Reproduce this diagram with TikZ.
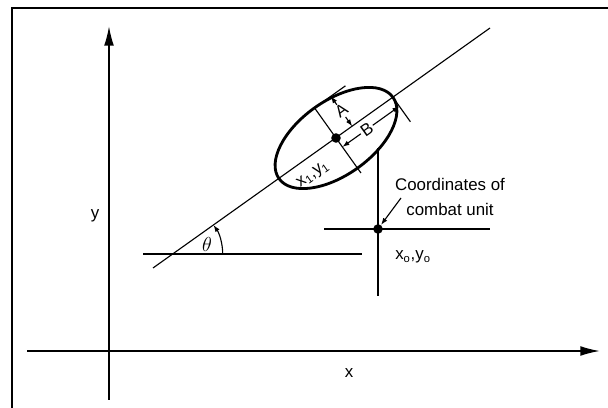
\documentclass[tikz,border=0pt]{standalone}
\usepackage{fontspec}
\setmainfont{Liberation Sans}
\usetikzlibrary{arrows.meta}
\begin{document}
\begin{tikzpicture}[x=0.025cm,y=0.025cm,
    geoAx/.style={-{Latex[length=14pt,width=7pt]},line width=1.2pt},
    geoLn/.style={line width=0.8pt},
    geoEll/.style={line width=2pt},
    geoDim/.style={-{Latex[length=5pt,width=3.5pt]},line width=0.8pt},
    geoLbl/.style={font=\fontsize{12}{17.5}\selectfont,inner sep=1pt},
    geoDot/.style={fill,circle,inner sep=2.4pt},
]
\useasboundingbox (0,0) rectangle (608,408);
% Frame
\draw[line width=1.4pt] (12,0) -- (12,400) -- (608,400);
% Axes
\coordinate (Xs) at (27,57);
\coordinate (Xe) at (600,57);
\coordinate (Ys) at (109,8);
\coordinate (Ye) at (109,382);
\draw[geoAx] (Xs) -- (Xe);
\draw[geoAx] (Ys) -- (Ye);
\node[geoLbl] (xLab) at (349,35) {x};
\node[geoLbl] (yLab) at (95,192) {y};
% Line of the major axis
\coordinate (L1) at (153,140);
\coordinate (L2) at (490,380);
\draw[geoLn] (L1) -- (L2);
% Angle theta
\coordinate (H1) at (143,154);
\coordinate (H2) at (362,154);
\draw[geoLn] (H1) -- (H2);
\coordinate (T) at (172.7,154);
\draw[geoDim] ([shift={(0:50)}]T) arc (0:35.5:50);
\node[geoLbl,font=\fontsize{15}{17}\selectfont] (th) at (207,164) {$\theta$};
% Combat unit
\coordinate (V1) at (378,260);
\coordinate (V2) at (378,112);
\coordinate (U1) at (324,179);
\coordinate (U2) at (490,179);
\draw[geoLn] (V1) -- (V2);
\draw[geoLn] (U1) -- (U2);
\node[geoDot] (unit) at (378,179) {};
\node[geoLbl,align=center] (cu) at (450,211) {Coordinates of\\combat unit};
\coordinate (cuLead) at (401,210);
\draw[geoDim] (cuLead) -- (unit);
\node[geoLbl] (xo) at (413,151) {x\textsubscript{o},y\textsubscript{o}};
% Ellipse
\begin{scope}[shift={(336,270)},rotate=35.5]
\draw[geoEll] (0,0) ellipse (70 and 37);
\node[geoDot] (C) at (0,0) {};
\coordinate (M1) at (0,37);
\coordinate (M2) at (0,-43);
\draw[geoLn] (M1) -- (M2);
% A dimension
\coordinate (TA1) at (0,37);
\coordinate (TA2) at (38,37);
\draw[geoLn] (TA1) -- (TA2);
\node[geoLbl,rotate=35.5] (A) at (20,19) {A};
\coordinate (Atop) at (20,37);
\coordinate (Abot) at (20,0);
\draw[geoDim] (A) -- (Atop);
\draw[geoDim] (A) -- (Abot);
% B dimension
\coordinate (TB1) at (70,5);
\coordinate (TB2) at (70,-30);
\draw[geoLn] (TB1) -- (TB2);
\node[geoLbl,rotate=35.5] (B) at (30,-11) {B};
\coordinate (Bleft) at (0,-11);
\coordinate (Bright) at (70,-11);
\draw[geoDim] (B) -- (Bleft);
\draw[geoDim] (B) -- (Bright);
\node[geoLbl,rotate=35.5] (xy1) at (-40,-17) {x\textsubscript{1},y\textsubscript{1}};
\end{scope}
\end{tikzpicture}
\end{document}
